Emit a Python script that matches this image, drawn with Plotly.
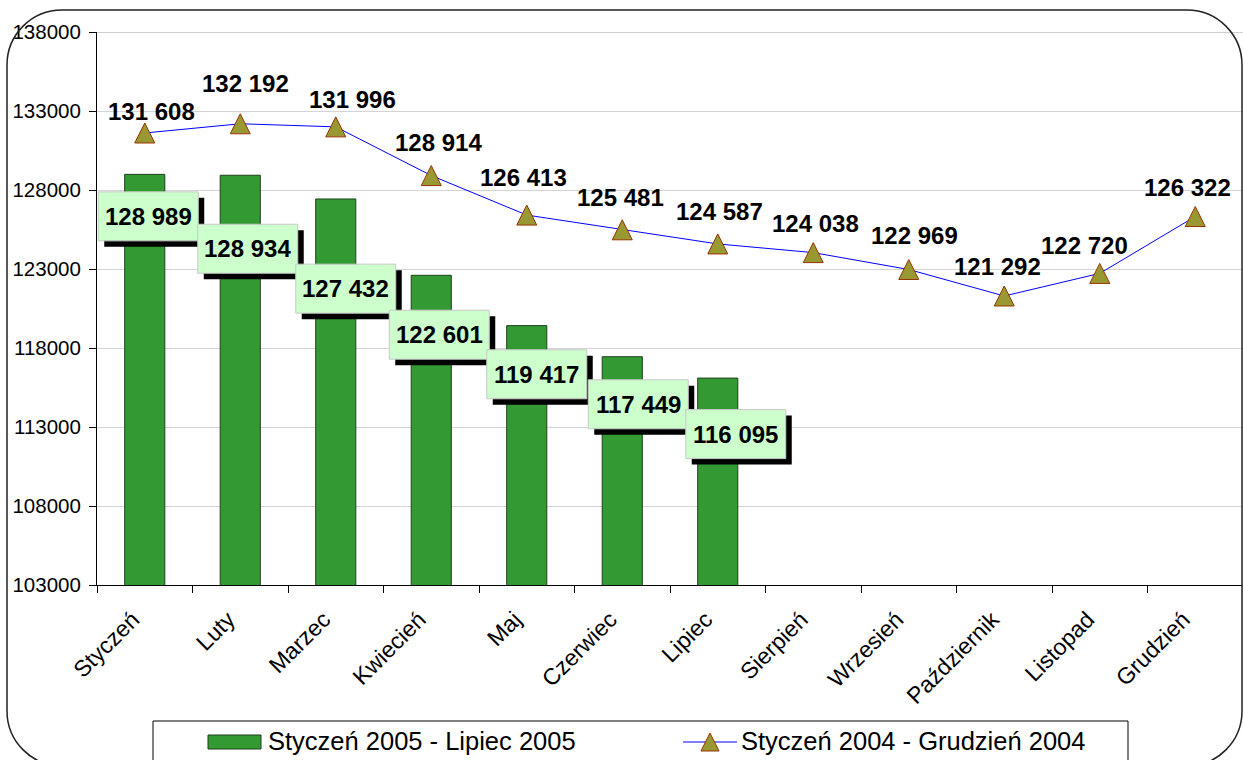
import plotly.graph_objects as go

# ---------------- data ----------------
months = ["Styczeń", "Luty", "Marzec", "Kwiecień", "Maj", "Czerwiec", "Lipiec",
          "Sierpień", "Wrzesień", "Październik", "Listopad", "Grudzień"]
values_2005 = [128989, 128934, 127432, 122601, 119417, 117449, 116095]
values_2004 = [131608, 132192, 131996, 128914, 126413, 125481, 124587,
               124038, 122969, 121292, 122720, 126322]
y_ticks = [103000, 108000, 113000, 118000, 123000, 128000, 133000, 138000]
series_names = ["Styczeń 2005 - Lipiec 2005", "Styczeń 2004 - Grudzień 2004"]

# ---------------- styling / label placement (pixels: dx right, dy down) ----------------
bar_label_offsets = [(3.5, 42), (7.5, 73.5), (10, 89.7), (8, 59.4), (10, 48.7), (16, 47.6), (18, 56)]
line_label_offsets = [(7, -21), (5, -40), (17, -27.5), (7, -32.6), (-3, -38), (-2, -32),
                      (2, -32.5), (2, -29.6), (6, -34), (-7, -29), (-15, -28), (-8, -29.5)]

FONT = "Liberation Sans, Arial, sans-serif"
W, H = 1243, 760
ML, MR, MT, MB = 97, 0, 32, 175
PW, PH = W - ML - MR, H - MT - MB


def fx(px):
    return (px - ML) / PW


def fy(py):
    return (H - MB - py) / PH


def fmt(v):
    return f"{v:,}".replace(",", " ")


fig = go.Figure()

fig.add_trace(go.Bar(
    x=months[:len(values_2005)], y=values_2005, name=series_names[0],
    width=0.42, marker=dict(color="#339933", line=dict(color="#1f3f1f", width=1)),
    showlegend=False,
))

fig.add_trace(go.Scatter(
    x=months, y=values_2004, name=series_names[1], mode="lines+markers",
    line=dict(color="#0000ff", width=1, backoff=0),
    marker=dict(symbol="arrow-down", angle=180, size=20, standoff=10, color="#999933",
                line=dict(color="#993300", width=1)),
    cliponaxis=False, showlegend=False,
))

shapes = []
annotations = []

# bar value labels: shadow + box + text
BW, BH, SH = 100, 49, 6
for i, v in enumerate(values_2005):
    dx, dy = bar_label_offsets[i]
    shapes.append(dict(type="rect", xref="x", yref="y", xsizemode="pixel", ysizemode="pixel",
                       xanchor=i, yanchor=v,
                       x0=dx - BW / 2 + SH, x1=dx + BW / 2 + SH,
                       y0=-dy - BH / 2 - SH, y1=-dy + BH / 2 - SH,
                       fillcolor="black", line=dict(width=0), layer="above"))
    shapes.append(dict(type="rect", xref="x", yref="y", xsizemode="pixel", ysizemode="pixel",
                       xanchor=i, yanchor=v,
                       x0=dx - BW / 2, x1=dx + BW / 2,
                       y0=-dy - BH / 2, y1=-dy + BH / 2,
                       fillcolor="#ccffcc", line=dict(color="#c8c8c8", width=1), layer="above"))
    annotations.append(dict(x=i, y=v, xref="x", yref="y", text=fmt(v), showarrow=False,
                            xshift=dx, yshift=-dy, xanchor="center", yanchor="middle",
                            font=dict(family=FONT, size=24, color="black", weight="bold")))

# line value labels
for i, v in enumerate(values_2004):
    dx, dy = line_label_offsets[i]
    annotations.append(dict(x=i, y=v, xref="x", yref="y", text=fmt(v), showarrow=False,
                            xshift=dx, yshift=-dy, xanchor="center", yanchor="middle",
                            font=dict(family=FONT, size=24, color="black", weight="bold")))

# darker top border line of plot area
shapes.append(dict(type="line", xref="paper", yref="y", x0=0, x1=1, y0=y_ticks[-1], y1=y_ticks[-1],
                   line=dict(color="#a0a0a0", width=1), layer="above"))

# rounded chart border
L, R, T, B, r = 7, 1242, 10, 766, 55
k = 0.5523 * r


def P(px, py):
    return f"{fx(px):.5f},{fy(py):.5f}"


path = (f"M{P(L, T + r)} C{P(L, T + r - k)} {P(L + r - k, T)} {P(L + r, T)} "
        f"L{P(R - r, T)} C{P(R - r + k, T)} {P(R, T + r - k)} {P(R, T + r)} "
        f"L{P(R, B - r)} C{P(R, B - r + k)} {P(R - r + k, B)} {P(R - r, B)} "
        f"L{P(L + r, B)} C{P(L + r - k, B)} {P(L, B - r + k)} {P(L, B - r)} Z")
shapes.append(dict(type="path", xref="paper", yref="paper", path=path,
                   line=dict(color="#222222", width=1.5), layer="above"))

# manual legend
shapes.append(dict(type="rect", xref="paper", yref="paper",
                   x0=fx(153), x1=fx(1128), y0=fy(721), y1=fy(780),
                   fillcolor="white", line=dict(color="black", width=1), layer="above"))
shapes.append(dict(type="rect", xref="paper", yref="paper",
                   x0=fx(208), x1=fx(261), y0=fy(735), y1=fy(749),
                   fillcolor="#339933", line=dict(color="#1f3f1f", width=1), layer="above"))
shapes.append(dict(type="line", xref="paper", yref="paper",
                   x0=fx(683), x1=fx(737), y0=fy(742), y1=fy(742),
                   line=dict(color="#0000ff", width=1), layer="above"))
tri = f"M{P(701, 751)} L{P(719, 751)} L{P(710, 733)} Z"
shapes.append(dict(type="path", xref="paper", yref="paper", path=tri,
                   fillcolor="#999933", line=dict(color="#993300", width=1), layer="above"))
annotations.append(dict(x=fx(266), y=fy(741), xref="paper", yref="paper", text=series_names[0],
                        showarrow=False, xanchor="left", yanchor="middle",
                        font=dict(family=FONT, size=25.5, color="black")))
annotations.append(dict(x=fx(739), y=fy(741), xref="paper", yref="paper", text=series_names[1],
                        showarrow=False, xanchor="left", yanchor="middle",
                        font=dict(family=FONT, size=25.5, color="black")))

fig.update_layout(
    width=W, height=H, margin=dict(l=ML, r=MR, t=MT, b=MB, pad=0),
    paper_bgcolor="white", plot_bgcolor="white",
    showlegend=False,
    font=dict(family=FONT, color="black", size=20),
    shapes=shapes, annotations=annotations,
)
fig.update_xaxes(
    type="category", categoryorder="array", categoryarray=months, range=[-0.5, len(months) - 0.5],
    tickson="boundaries", ticks="outside", ticklen=7, tickcolor="black", tickwidth=1,
    showline=True, linecolor="black", linewidth=1, showgrid=False, tickangle=-45,
    ticklabelstandoff=11, ticklabelshift=-12,
    tickfont=dict(family=FONT, size=23, color="black"),
)
fig.update_yaxes(
    range=[y_ticks[0], y_ticks[-1]], tickmode="array", tickvals=y_ticks,
    ticktext=[str(t) for t in y_ticks],
    ticks="outside", ticklen=7, tickcolor="black", tickwidth=1, ticklabelstandoff=4,
    showline=True, linecolor="black", linewidth=1, zeroline=False,
    showgrid=True, gridcolor="#d4d4d4", gridwidth=1,
    tickfont=dict(family=FONT, size=20.5, color="black"),
)

fig.write_html("out.html", config={"displayModeBar": False},
               post_script="document.body.style.margin='0px';document.body.style.overflow='hidden';")
